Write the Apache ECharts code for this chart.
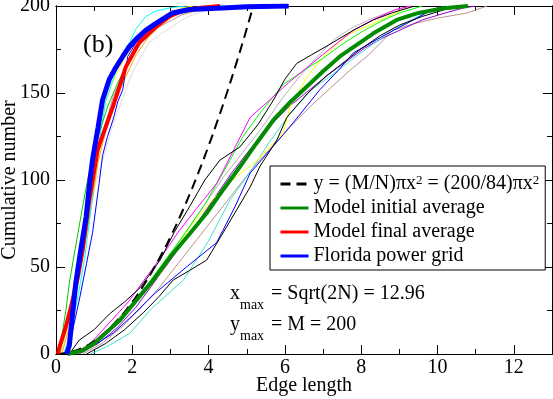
<!DOCTYPE html>
<html>
<head>
    <meta charset="utf-8">
    <title>Edge length</title>
    <script src="https://cdn.jsdelivr.net/npm/echarts@6/dist/echarts.min.js"></script>
    <style>
        html, body { margin: 0; padding: 0; background: #fff; }
        #main { width: 553px; height: 399px; }
    </style>
</head>
<body>
<div id="main"></div>
<script>
    // 平均曲线 (thick lines)
    var initialAvg = [[0.3,0],[0.7,2],[1.0,6],[1.3,12],[1.68,19.5],[2.0,28],[2.3,36],[2.55,42.5],[3.0,56],[3.5,69],[3.95,81],[4.4,95],[4.82,107.6],[5.25,121],[5.7,134.5],[6.15,145],[6.57,153.6],[7.0,162.5],[7.44,171],[7.9,178],[8.32,184.3],[8.93,192],[9.5,196],[10.1,198.5],[10.8,200]];
    var finalAvg = [[0.05,0],[0.09,4],[0.25,15],[0.44,31],[0.58,45],[0.70,60],[0.87,88],[1.0,105],[1.09,117],[1.18,123],[1.49,142],[1.83,165],[2.18,179],[2.62,188],[2.97,194],[3.3,197],[3.8,199],[4.3,200]];
    var floridaGrid = [[0.28,0],[0.35,5],[0.42,20],[0.52,41],[0.65,60],[0.79,79],[0.88,98],[0.96,112],[1.1,130],[1.22,146],[1.4,158],[1.55,164],[1.75,171],[1.9,176],[2.1,181],[2.35,186],[2.62,190],[3.06,196],[3.49,198],[4.5,199],[5.0,199.5],[6.1,200]];
    // y = (200/84) pi x^2
    var parabola = [[0,0],[0.5,1.87],[1,7.48],[1.5,16.83],[2,29.92],[2.25,37.87],[2.5,46.75],[2.75,56.57],[3,67.32],[3.25,79.01],[3.5,91.63],[3.75,105.19],[4,119.68],[4.25,135.11],[4.5,151.47],[4.75,168.77],[5,187.0],[5.17,200]];

    // 各次模型 final 状态
    var fYellow = [[0.1,0],[0.3,15],[0.5,35],[0.7,65],[0.85,90],[0.95,110],[1.1,130],[1.3,145],[1.5,157],[1.8,170],[2.1,180],[2.5,188],[2.9,195],[3.3,199],[3.6,200]];
    var fOrange = [[0.15,0],[0.35,15],[0.55,38],[0.75,62],[0.95,88],[1.1,110],[1.3,128],[1.55,145],[1.8,158],[2.1,172],[2.45,183],[2.8,190],[3.2,196],[3.8,200]];
    var fCyan = [[0.2,0],[0.35,10],[0.55,30],[0.75,55],[0.9,80],[1.0,100],[1.15,125],[1.3,145],[1.5,158],[1.66,167],[1.75,173],[1.95,180],[2.1,187],[2.36,194],[2.6,197],[3.0,199],[3.4,200]];
    var fGreen = [[0.05,0],[0.15,10],[0.26,25],[0.35,41],[0.5,60],[0.7,85],[0.9,108],[1.1,125],[1.35,142],[1.6,155],[1.9,168],[2.2,178],[2.6,188],[3.0,194],[3.5,198],[4.0,200]];
    var fBlue = [[0.3,0],[0.34,4],[0.45,15],[0.61,31],[0.8,52],[0.96,70],[1.13,98],[1.22,114],[1.35,125],[1.5,135],[1.62,145],[1.75,152],[1.88,171],[2.1,179],[2.4,186],[2.8,192],[3.2,196],[3.6,198],[4.2,200]];
    var fGray = [[0.1,0],[0.3,12],[0.55,40],[0.8,70],[1.0,95],[1.2,110],[1.4,125],[1.57,137],[1.8,150],[2.01,162],[2.2,170],[2.45,179],[2.75,184],[3.06,188.5],[3.3,192],[3.58,195],[4.0,198],[4.5,200]];
    var fBrown = [[0.1,0],[0.3,20],[0.6,55],[0.9,95],[1.2,125],[1.5,148],[1.8,163],[2.2,178],[2.7,188],[3.3,195],[4.0,199],[4.6,200]];

    // 各次模型 initial 状态
    var iBlackHigh = [[0.35,0],[0.61,8],[1.0,14],[1.4,23],[1.8,30],[2.2,38],[2.73,54],[3.1,70],[3.51,85],[3.9,100],[4.3,111.5],[4.82,119],[5.3,132],[5.7,146],[6.0,158],[6.31,167],[6.7,172],[7.1,177],[7.79,186],[8.32,192],[8.8,196],[9.4,200]];
    var iBlackLow = [[0.8,0],[1.3,6],[1.8,14],[2.3,24],[2.7,33],[3.07,42.5],[3.5,48],[3.95,54],[4.47,73],[5.09,96],[5.35,108],[5.79,123],[6.05,136],[6.6,150],[7.1,160],[7.97,175],[8.5,183],[9.0,189],[9.6,194],[10.2,198],[10.8,200]];
    var iMagenta = [[0.5,0],[0.9,6],[1.4,18],[1.9,30],[2.36,44],[2.8,57],[3.2,70],[3.7,84],[4.21,98],[4.65,117],[5.09,136],[5.6,146],[6.1,156],[6.6,165],[7.1,174],[7.79,186],[8.3,192],[8.9,198],[9.3,200]];
    var iGreen = [[0.4,0],[0.9,4],[1.4,13],[1.9,25],[2.4,40],[2.9,55],[3.4,70],[3.9,86],[4.4,105],[4.9,125],[5.4,140],[5.96,155],[6.5,163],[7.0,170],[7.5,178],[8.0,185],[8.5,191],[9.0,196],[9.6,200]];
    var iYellow = [[0.5,0],[1.0,5],[1.5,15],[2.0,28],[2.73,46],[3.51,73],[3.95,85],[4.5,98],[5.26,111],[5.96,127],[6.13,142],[6.6,160],[7.1,173],[7.7,184],[8.32,190],[8.9,196],[9.3,200]];
    var iCyan = [[0.9,0],[1.4,5],[1.94,12],[2.5,26],[3.34,42.5],[4.0,65],[4.56,88.5],[5.1,105],[5.6,122],[6.13,138],[6.7,152],[7.27,161],[7.8,170],[8.3,178],[8.9,187],[9.4,193],[9.8,197],[10.2,200]];
    var iBlue = [[0.5,0],[1.0,5],[1.5,12],[2.0,22],[2.6,35],[3.42,50],[4.21,64],[4.7,85],[5.09,104],[5.6,117],[6.22,133],[6.92,152],[7.4,163],[7.79,173],[8.67,184],[9.2,190],[9.7,196],[10.2,200]];
    var iViolet = [[0.6,0],[1.1,6],[1.6,15],[2.1,27],[2.6,42],[3.1,57],[3.6,72],[4.1,88],[4.6,104],[5.1,118],[5.6,131],[6.1,142],[6.6,151],[7.1,160],[7.6,168],[8.1,176],[8.6,182],[9.1,187],[9.6,192],[10.2,196],[10.7,199],[11.0,200]];
    var iBrown = [[0.7,0],[1.2,6],[1.7,15],[2.2,26],[2.7,38],[3.2,52],[3.7,66],[4.2,80],[4.7,94],[5.2,108],[5.7,120],[6.2,132],[6.7,143],[7.2,153],[7.7,163],[8.2,172],[8.83,186],[9.4,190],[10.0,193],[10.77,196],[11.3,200]];
    var iGray = [[0.4,0],[0.9,6],[1.4,15],[1.9,27],[2.4,40],[2.9,54],[3.4,70],[3.9,86],[4.4,102],[4.9,116],[5.4,130],[5.9,146],[6.4,160],[6.9,172],[7.3,181],[7.8,188],[8.3,193],[8.8,197],[9.3,200]];

    var thinRuns = [fGray, fBrown, fYellow, fOrange, fCyan, fGreen, fBlue,
        iBrown, iGray, iViolet, iCyan, iBlue, iYellow, iGreen, iMagenta, iBlackLow, iBlackHigh];
    var thinColors = ['#dcdcdc', '#bc8f8f', '#ffff00', '#ffa500', '#00ffff', '#00c800', '#0000ff',
        '#bc8f8f', '#b4b4b4', '#9400d3', '#40e0d0', '#0000ff', '#ffff00', '#00ff00', '#ff00ff', '#000000', '#000000'];

    var parabolaName = 'parabola';
    var FONT = 'Liberation Serif';

    var myChart = echarts.init(document.getElementById('main'));

    var series = [];
    for (var i = 0; i < thinRuns.length; i++) {
        series.push({
            type: 'line',
            data: thinRuns[i],
            symbol: 'none',
            silent: true,
            lineStyle: { color: thinColors[i], width: 1 },
            z: 2
        });
    }
    series.push({
        name: parabolaName, type: 'line', data: parabola, symbol: 'none', smooth: true,
        color: '#000', lineStyle: { color: '#000', width: 2, type: [10, 6] }, z: 3
    });
    series.push({
        name: 'Model initial average', type: 'line', data: initialAvg, symbol: 'none',
        color: '#008b00', lineStyle: { color: '#008b00', width: 4 }, z: 4
    });
    series.push({
        name: 'Model final average', type: 'line', data: finalAvg, symbol: 'none',
        color: '#ff0000', lineStyle: { color: '#ff0000', width: 4 }, z: 4
    });
    series.push({
        name: 'Florida power grid', type: 'line', data: floridaGrid, symbol: 'none',
        color: '#0000ff', lineStyle: { color: '#0000ff', width: 5 }, z: 5
    });

    function xAx(pos, step, len, labels) {
        return {
            type: 'value', min: 0, max: 13, interval: step, position: pos,
            axisLine: { show: true, onZero: false, lineStyle: { color: '#000', width: 1 } },
            axisTick: { show: true, inside: true, length: len, lineStyle: { color: '#000' } },
            axisLabel: { show: labels, showMaxLabel: false, margin: 4, fontSize: 20, fontFamily: FONT, color: '#000' },
            splitLine: { show: false },
            name: labels ? 'Edge length' : '', nameLocation: 'middle', nameGap: 22, nameMoveOverlap: false,
            nameTextStyle: { fontSize: 20, fontFamily: FONT, color: '#000' }
        };
    }
    function yAx(pos, step, len, labels) {
        return {
            type: 'value', min: 0, max: 200, interval: step, position: pos,
            axisLine: { show: true, onZero: false, lineStyle: { color: '#000', width: 1 } },
            axisTick: { show: true, inside: true, length: len, lineStyle: { color: '#000' } },
            axisLabel: { show: labels, margin: 6, fontSize: 20, fontFamily: FONT, color: '#000' },
            splitLine: { show: false },
            name: labels ? 'Cumulative number' : '', nameLocation: 'middle', nameGap: 36, nameMoveOverlap: false,
            nameTextStyle: { fontSize: 20, fontFamily: FONT, color: '#000' }
        };
    }

    var option = {
        animation: false,
        backgroundColor: '#fff',
        grid: { left: 56, right: 1, top: 6, bottom: 45, containLabel: false, outerBoundsMode: 'none' },
        xAxis: [xAx('bottom', 2, 9, true), xAx('bottom', 1, 5, false), xAx('top', 2, 9, false), xAx('top', 1, 5, false)],
        yAxis: [yAx('left', 50, 9, true), yAx('left', 25, 5, false), yAx('right', 50, 9, false), yAx('right', 25, 5, false)],
        legend: {
            data: [parabolaName, 'Model initial average', 'Model final average', 'Florida power grid'],
            orient: 'vertical',
            left: 270, top: 166,
            padding: [8, 6, 4, 9],
            itemWidth: 28, itemHeight: 14, itemGap: 4,
            borderColor: '#000', borderWidth: 1, borderRadius: 0,
            backgroundColor: '#fff',
            lineStyle: { width: 3 },
            itemStyle: { opacity: 0 },
            selectedMode: false,
            formatter: function (name) {
                if (name === parabolaName) return 'y = (M/N)πx{sup|2} = (200/84)πx{sup|2}';
                return name;
            },
            textStyle: {
                fontSize: 20, fontFamily: FONT, color: '#000', lineHeight: 20,
                rich: { sup: { fontSize: 13, fontFamily: FONT, color: '#000', verticalAlign: 'top', lineHeight: 3 } }
            }
        },
        graphic: [
            { type: 'text', left: 83, top: 32, style: { text: '(b)', font: '26px "Liberation Serif"', fill: '#000' } },
            { type: 'text', x: 230, y: 294, style: { text: 'x', font: '20px "Liberation Serif"', fill: '#000', verticalAlign: 'middle' } },
            { type: 'text', x: 240, y: 305, style: { text: 'max', font: '14px "Liberation Serif"', fill: '#000', verticalAlign: 'middle' } },
            { type: 'text', x: 271, y: 294, style: { text: '= Sqrt(2N) = 12.96', font: '20px "Liberation Serif"', fill: '#000', verticalAlign: 'middle' } },
            { type: 'text', x: 230, y: 325, style: { text: 'y', font: '20px "Liberation Serif"', fill: '#000', verticalAlign: 'middle' } },
            { type: 'text', x: 240, y: 336, style: { text: 'max', font: '14px "Liberation Serif"', fill: '#000', verticalAlign: 'middle' } },
            { type: 'text', x: 271, y: 325, style: { text: '= M = 200', font: '20px "Liberation Serif"', fill: '#000', verticalAlign: 'middle' } }
        ],
        series: series
    };
    myChart.setOption(option);
</script>
</body>
</html>
